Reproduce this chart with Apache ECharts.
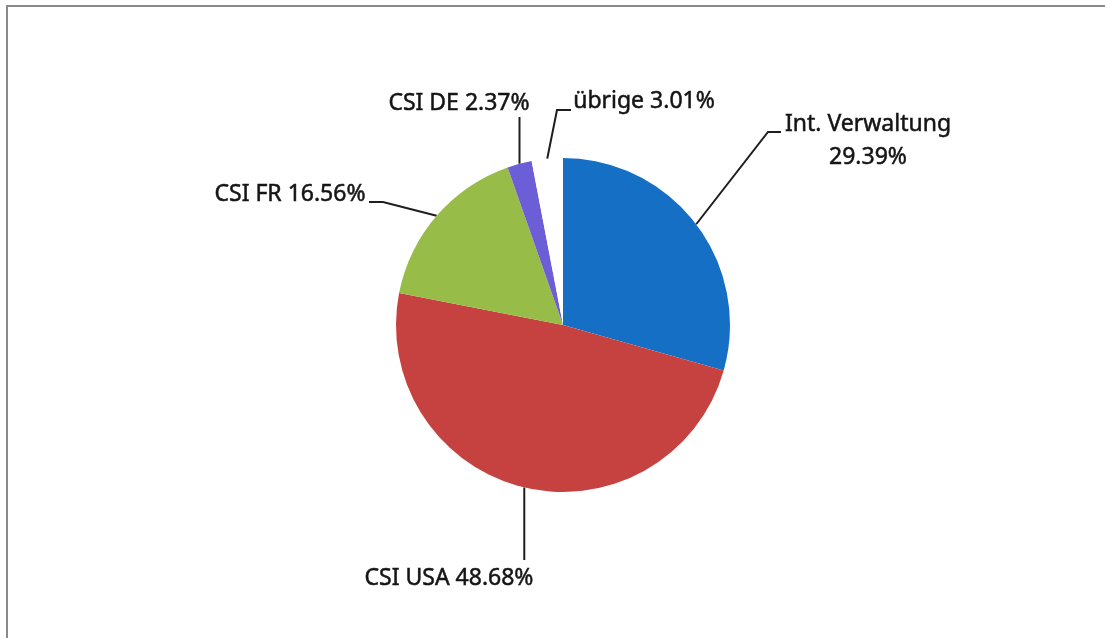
<!DOCTYPE html>
<html>
<head>
<meta charset="utf-8">
<script src="https://cdn.jsdelivr.net/npm/echarts@6/dist/echarts.min.js"></script>
<style>
html,body{margin:0;padding:0;background:#fff;}
#chart{width:1105px;height:638px;}
</style>
</head>
<body>
<div id="chart"></div>
<script>
// ---- data ----
var categories = ['Int. Verwaltung', 'CSI USA', 'CSI FR', 'CSI DE', 'übrige'];
var shares = [29.39, 48.68, 16.56, 2.37, 3.01];

// ---- style / layout ----
var sliceColors = ['#156fc4', '#c64240', '#97bd48', '#6c5ed6', '#ffffff'];
var labelLayouts = [
  { x: 868, y: 141, align: 'center', pts: function (s) { return [s, [768, 132], [781, 132]]; } },
  { x: 449, y: 578, align: 'center', pts: function (s) { return [s, [s[0], 560], [s[0], 560]]; } },
  { x: 290, y: 194, align: 'center', pts: function (s) { return [s, [383, 202], [369, 202]]; } },
  { x: 459, y: 103, align: 'center', pts: function (s) { return [s, [s[0], 117], [s[0], 117]]; } },
  { x: 644, y: 101, align: 'center', pts: function (s) { return [s, [557, 110], [571, 110]]; } }
];

var chart = echarts.init(document.getElementById('chart'), null, { renderer: 'canvas' });
var option = {
  animation: false,
  backgroundColor: '#ffffff',
  graphic: [
    { type: 'line', shape: { x1: 7, y1: 6, x2: 1105, y2: 6 }, style: { stroke: '#8a8a8a', lineWidth: 2 } },
    { type: 'line', shape: { x1: 7, y1: 5, x2: 7, y2: 638 }, style: { stroke: '#8a8a8a', lineWidth: 2 } }
  ],
  series: [{
    type: 'pie',
    center: [563, 325],
    radius: 167,
    startAngle: 90,
    clockwise: true,
    avoidLabelOverlap: false,
    silent: true,
    data: categories.map(function (c, i) {
      return { name: c, value: shares[i], itemStyle: { color: sliceColors[i] } };
    }),
    itemStyle: { borderWidth: 0 },
    label: {
      show: true,
      position: 'outside',
      color: '#141414',
      fontFamily: '"Noto Sans", sans-serif',
      fontSize: 23,
      lineHeight: 33,
      textBorderColor: '#141414',
      textBorderWidth: 0.5,
      formatter: function (p) {
        return p.name + (p.dataIndex === 0 ? '\n' : ' ') + p.value.toFixed(2) + '%';
      }
    },
    labelLine: {
      show: true,
      length: 20,
      length2: 20,
      lineStyle: { color: '#1e1e1e', width: 2 }
    },
    labelLayout: function (params) {
      var l = labelLayouts[params.dataIndex];
      var start = params.labelLinePoints ? params.labelLinePoints[0] : [0, 0];
      return {
        x: l.x,
        y: l.y,
        align: l.align,
        verticalAlign: 'middle',
        labelLinePoints: l.pts(start)
      };
    }
  }]
};
chart.setOption(option);
</script>
</body>
</html>
